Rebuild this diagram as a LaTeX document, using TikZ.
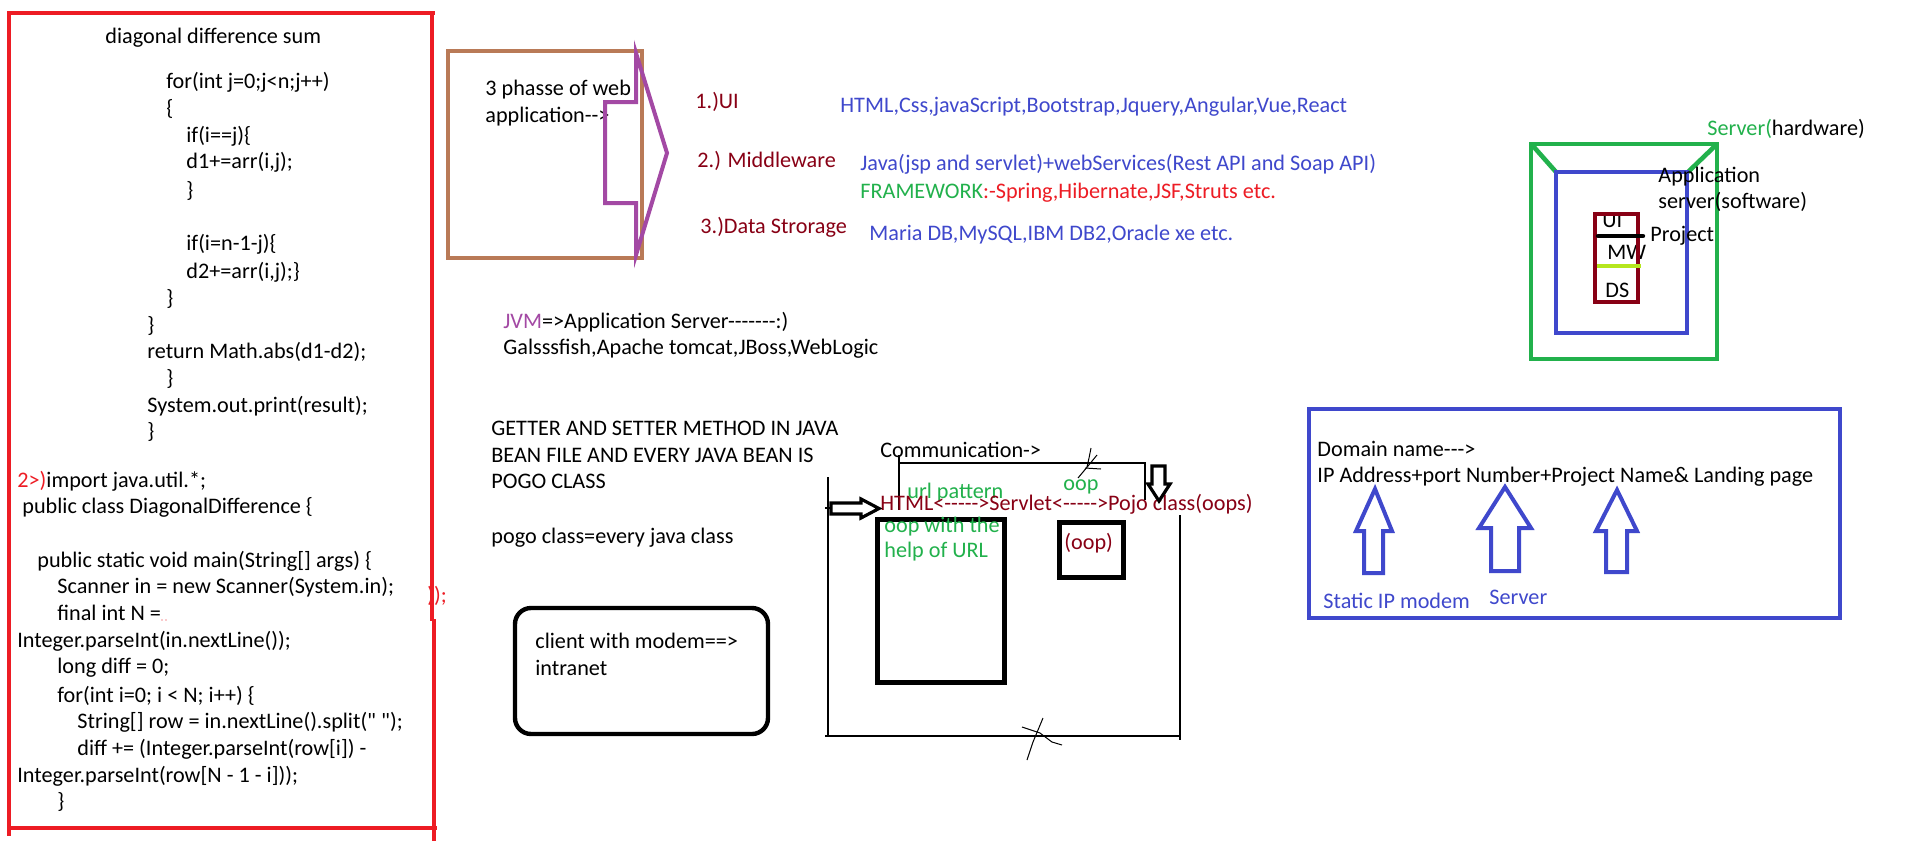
\documentclass[tikz,border=0pt]{standalone}
\usepackage{fontspec}
\setmainfont{Carlito}[Ligatures=TeXOff]
\definecolor{dred}{HTML}{880015}
\definecolor{pblue}{HTML}{3F48CC}
\definecolor{pgreen}{HTML}{22B14C}
\definecolor{pred}{HTML}{ED1C24}
\definecolor{ppurple}{HTML}{A349A4}
\definecolor{pbrown}{HTML}{B97A57}
\definecolor{plime}{HTML}{B5E61D}
\tikzset{
  tx/.style={anchor=west, inner sep=0pt, text height=8.3pt, text depth=2.7pt, font=\fontsize{11.1}{13}\selectfont},
  hollowarrow/.style={line width=1.6pt, fill=white, line join=miter},
  bluearrow/.style={pblue, line width=2pt},
  scribble/.style={line width=0.5pt},
}
\begin{document}
\begin{tikzpicture}[x=0.5pt,y=-0.5pt]
\useasboundingbox (0,0) rectangle (1911,841);
\fill[white] (0,0) rectangle (1911,841);

% ---------------- code block (red frame) ----------------
\node[tx] (c1) at (105,38) {diagonal difference sum};
\node[tx] (c2) at (166,83) {for(int j=0;j<n;j++)};
\node[tx] (c3) at (166,110) {\{};
\node[tx] (c4) at (186,137) {if(i==j)\{};
\node[tx] (c5) at (186,163) {d1+=arr(i,j);};
\node[tx] (c6) at (186,192) {\}};
\node[tx] (c7) at (186,245) {if(i=n-1-j)\{};
\node[tx] (c8) at (186,273) {d2+=arr(i,j);\}};
\node[tx] (c9) at (166,300) {\}};
\node[tx] (c10) at (147,327) {\}};
\node[tx] (c11) at (147,353) {return Math.abs(d1-d2);};
\node[tx] (c12) at (166,380) {\}};
\node[tx] (c13) at (147,407) {System.out.print(result);};
\node[tx] (c14) at (147,433) {\}};
\node[tx] (c15) at (17,482) {\textcolor{pred}{2>)}import java.util.*;};
\node[tx] (c16) at (22,508) {public class DiagonalDifference \{};
\node[tx] (c17) at (37,562) {public static void main(String[] args) \{};
\node[tx] (c18) at (57,588) {Scanner in = new Scanner(System.in);};
\node[tx] (c19) at (57,615) {final int N =};
\fill[pred] (162,620) circle (0.6) (166,620) circle (0.6);
\node[tx] (c20) at (17,642) {Integer.parseInt(in.nextLine());};
\node[tx] (c21) at (57,668) {long diff = 0;};
\node[tx] (c22) at (57,697) {for(int i=0; i < N; i++) \{};
\node[tx] (c23) at (77,723) {String[] row = in.nextLine().split(" ");};
\node[tx] (c24) at (77,750) {diff += (Integer.parseInt(row[i]) -};
\node[tx] (c25) at (17,777) {Integer.parseInt(row[N - 1 - i]));};
\node[tx] (c26) at (57,803) {\}};
\node[tx, text=pred] (c27) at (427,597) {));};

\draw[pred, line width=2.2pt] (7,13) -- (435,13);
\draw[pred, line width=2.2pt] (9,13) -- (9,836);
\draw[pred, line width=2.2pt] (432,13) -- (432,621);
\draw[pred, line width=2.2pt] (434,619) -- (434,841);
\draw[pred, line width=2.2pt] (9,828) -- (437,828);

% ---------------- 3 phases ----------------
\draw[pbrown, line width=2pt] (448,51) rectangle (642,258);
\node[tx] (ph1) at (485,90) {3 phasse of web};
\node[tx] (ph2) at (485,117) {application-->};
\draw[ppurple, line width=2pt] (636,53) -- (636,102) -- (605,102) -- (605,203) -- (636,203) -- (636,255) -- (667,153) -- cycle;

\node[tx, text=dred] (ui) at (695,103) {1.)UI};
\node[tx, text=dred] (mw) at (697,162) {2.) Middleware};
\node[tx, text=dred] (ds) at (700,228) {3.)Data Strorage};
\node[tx, text=pblue] (uit) at (840,107) {HTML,Css,javaScript,Bootstrap,Jquery,Angular,Vue,React};
\node[tx, text=pblue] (mwt) at (860,165) {Java(jsp and servlet)+webServices(Rest API and Soap API)};
\node[tx, text=pred] (fwt) at (860,193) {\textcolor{pgreen}{FRAMEWORK}:-Spring,Hibernate,JSF,Struts etc.};
\node[tx, text=pblue] (dst) at (869,235) {Maria DB,MySQL,IBM DB2,Oracle xe etc.};

% ---------------- server diagram ----------------
\node[tx] (srv) at (1707,130) {\textcolor{pgreen}{Server(}hardware)};
\draw[pgreen, line width=2.3pt] (1531,144) rectangle (1717,359);
\draw[pgreen, line width=2.3pt] (1533,146) -- (1556,172);
\draw[pgreen, line width=2.3pt] (1715,146) -- (1688,172);
\draw[pblue, line width=2.2pt] (1556,172) rectangle (1687,333);
\node[tx] (app1) at (1658,177) {Application};
\node[tx] (app2) at (1658,203) {server(software)};
\node[tx] (pui) at (1602,222) {UI};
\node[tx] (pmw) at (1607,254) {MW};
\node[tx] (pds) at (1605,292) {DS};
\draw[dred, line width=2.2pt] (1595,214) rectangle (1638,302);
\draw[black, line width=2.2pt, line cap=round] (1598,236) -- (1643,236);
\node[tx] (proj) at (1650,236) {Project};
\draw[plime, line width=1.6pt] (1597,266) -- (1641,266);

% ---------------- JVM / getter ----------------
\node[tx] (jvm) at (503,323) {\textcolor{ppurple}{JVM}=>Application Server-------:)};
\node[tx] (gls) at (503,349) {Galsssfish,Apache tomcat,JBoss,WebLogic};
\node[tx] (g1) at (491,430) {GETTER AND SETTER METHOD IN JAVA};
\node[tx] (g2) at (491,457) {BEAN FILE AND EVERY JAVA BEAN IS};
\node[tx] (g3) at (491,483) {POGO CLASS};
\node[tx] (g4) at (491,538) {pogo class=every java class};

% ---------------- client box ----------------
\draw[line width=2.2pt, rounded corners=8pt] (515,608) rectangle (768,734);
\node[tx] (cl1) at (535,643) {client with modem==>};
\node[tx] (cl2) at (535,670) {intranet};

% ---------------- communication ----------------
\node[tx] (comm) at (880,452) {Communication->};
\draw[line width=0.6pt] (899,455) -- (899,510);
\draw[line width=0.6pt] (899,463) -- (1145,463) -- (1145,500);
\draw[scribble] (1091,448) -- (1089,458) -- (1087,467);
\draw[scribble] (1097,455) -- (1088,466) -- (1078,478);
\draw[scribble] (1085,468) -- (1101,469);
\draw[line width=0.6pt] (828,477) -- (828,736);
\draw[line width=0.6pt] (825,508) -- (832,508);
\draw[line width=0.6pt] (825,736) -- (1180,736);
\draw[line width=0.6pt] (1180,515) -- (1180,740);
\draw[scribble] (1043,718) -- (1038,730) -- (1033,742) -- (1027,760);
\draw[scribble] (1022,727) -- (1040,733) -- (1052,742) -- (1062,745);

\node[tx, text=pgreen] (urlp) at (907,493) {url pattern};
\node[tx, text=pgreen] (oopt) at (1063,485) {oop};
\node[tx, text=dred] (flow) at (880,505) {HTML<----->Servlet<----->Pojo class(oops)};
\draw[hollowarrow] (831,503) -- (861,503) -- (861,499) -- (879,508.5) -- (861,518) -- (861,514) -- (831,514) -- cycle;
\draw[hollowarrow] (1152,466) -- (1165,466) -- (1165,484) -- (1170,484) -- (1159,501) -- (1148,484) -- (1152,484) -- cycle;
\draw[line width=2.5pt] (877,519) rectangle (1004,682);
\node[tx, text=pgreen] (oopw1) at (884,527) {oop with the};
\node[tx, text=pgreen] (oopw2) at (884,552) {help of URL};
\draw[line width=2.5pt] (1059,522) rectangle (1123,577);
\node[tx, text=dred] (oopb) at (1064,544) {(oop)};

% ---------------- domain name ----------------
\draw[pblue, line width=2.2pt] (1309,409) rectangle (1840,618);
\node[tx] (dn1) at (1317,451) {Domain name--->};
\node[tx] (dn2) at (1317,477) {IP Address+port Number+Project Name\& Landing page};
\draw[bluearrow] (1375,489) -- (1392,531) -- (1383,531) -- (1383,573) -- (1364,573) -- (1364,531) -- (1356,531) -- cycle;
\draw[bluearrow] (1505,487) -- (1531,528) -- (1519,528) -- (1519,571) -- (1491,571) -- (1491,528) -- (1479,528) -- cycle;
\draw[bluearrow] (1617,490) -- (1637,531) -- (1627,531) -- (1627,572) -- (1606,572) -- (1606,531) -- (1596,531) -- cycle;
\node[tx, text=pblue] (sipm) at (1323,603) {Static IP modem};
\node[tx, text=pblue] (srvl) at (1489,599) {Server};
\end{tikzpicture}
\end{document}
